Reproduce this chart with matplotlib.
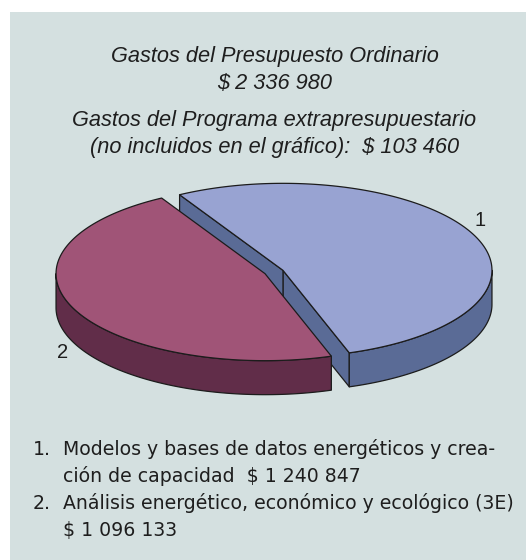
import numpy as np
import matplotlib
matplotlib.use("Agg")
import matplotlib.pyplot as plt
from matplotlib.patches import Polygon, Rectangle

# ---- data ----
categories = ["1", "2"]
values = [1240847, 1096133]
descriptions = [
    ["Modelos y bases de datos energéticos y crea-", "ción de capacidad  {v}"],
    ["Análisis energético, económico y ecológico (3E)", "{v}"],
]
extra_budget = 103460
title_lines = [
    "Gastos del Presupuesto Ordinario",
    "{total}",
    "Gastos del Programa extrapresupuestario",
    "(no incluidos en el gráfico):  {extra}",
]
top_colors = ["#98a3d2", "#a05477"]
side_colors = ["#5a6b96", "#612d49"]


def money(v):
    return "$ " + f"{v:,}".replace(",", " ")


W, H = 526, 560
fig = plt.figure(figsize=(W / 100, H / 100), dpi=100)
ax = fig.add_axes([0, 0, 1, 1])
ax.set_xlim(0, W)
ax.set_ylim(H, 0)
ax.axis("off")

ax.add_patch(Rectangle((10, 12), W - 10, H - 12, facecolor="#d4e0e0",
                       edgecolor="none", zorder=0))

# ---- 3D pie geometry ----
cx, cy = 274, 272
rx, ry = 209, 87
depth = 34
explode = 0.047
start = -71.5
edge = "#1c1c1c"
lw = 0.9

total = sum(values)
slices = []
a = start
for v in values:
    span = 360.0 * v / total
    slices.append((a, a + span))
    a += span


def pt(t_deg, ox, oy, dz=0.0):
    t = np.radians(t_deg)
    return (cx + ox + rx * np.cos(t), cy + oy - ry * np.sin(t) + dz)


faces, walls, tops = [], [], []
for i, (a0, a1) in enumerate(slices):
    mid = np.radians((a0 + a1) / 2)
    ox = explode * rx * np.cos(mid)
    oy = -explode * ry * np.sin(mid)
    c_top = (cx + ox, cy + oy)
    c_bot = (cx + ox, cy + oy + depth)
    # cut faces
    for ang, nrm in ((a0, a0 - 90), (a1, a1 + 90)):
        if np.sin(np.radians(nrm)) < 0:
            p_top = pt(ang, ox, oy)
            p_bot = pt(ang, ox, oy, depth)
            faces.append(([c_top, p_top, p_bot, c_bot], side_colors[i]))
    # outer wall (front part)
    for k in (-1, 0, 1):
        lo = max(a0, 180 + 360 * k)
        hi = min(a1, 360 + 360 * k)
        if hi > lo:
            ts = np.linspace(lo, hi, 120)
            upper = [pt(t, ox, oy) for t in ts]
            lower = [pt(t, ox, oy, depth) for t in ts[::-1]]
            walls.append((upper + lower, side_colors[i]))
    # top
    ts = np.linspace(a0, a1, 300)
    tops.append(([c_top] + [pt(t, ox, oy) for t in ts], top_colors[i]))

z = 2
for group in (faces, walls, tops):
    for verts, col in group:
        ax.add_patch(Polygon(verts, closed=True, facecolor=col, edgecolor=edge,
                             linewidth=lw, joinstyle="round", zorder=z))
        z += 0.01

# slice labels
label_pos = [(480, 220), (63, 352)]
for lab, (x, y) in zip(categories, label_pos):
    ax.text(x, y, lab, ha="center", va="center", fontsize=14.5,
            family="Liberation Sans", color="#1e1e1e", zorder=10)

# ---- title ----
title_base = [62, 89, 126, 153]
for line, yb in zip(title_lines, title_base):
    s = line.format(total=money(total), extra=money(extra_budget))
    ax.text(274.5, yb, s, ha="center", va="baseline", fontsize=15.7,
            style="italic", family="Liberation Sans", color="#1e1e1e", zorder=10)

# ---- legend ----
leg_base = [455, 482, 509, 536]
row = 0
for i, (cat, desc) in enumerate(zip(categories, descriptions)):
    for j, line in enumerate(desc):
        yb = leg_base[row]
        if j == 0:
            ax.text(33, yb, f"{cat}.", ha="left", va="baseline", fontsize=13.6,
                    family="DejaVu Sans", color="#1e1e1e", zorder=10)
        ax.text(63, yb, line.format(v=money(values[i])), ha="left",
                va="baseline", fontsize=13.6, family="DejaVu Sans",
                color="#1e1e1e", zorder=10)
        row += 1

fig.savefig("out.png", dpi=100, facecolor="white")
